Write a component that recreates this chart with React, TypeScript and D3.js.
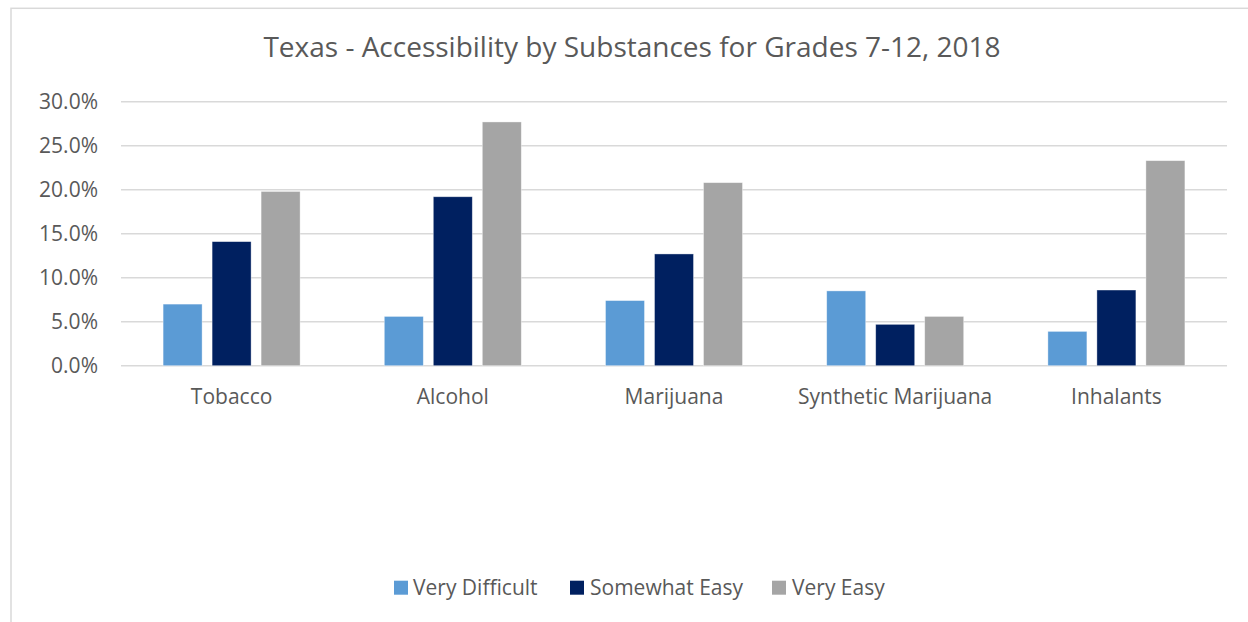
import React from "react";
import * as d3 from "d3";

const categories = ["Tobacco", "Alcohol", "Marijuana", "Synthetic Marijuana", "Inhalants"];
const seriesNames = ["Very Difficult", "Somewhat Easy", "Very Easy"];
const veryDifficult = [7.0, 5.6, 7.4, 8.5, 3.9];
const somewhatEasy = [14.1, 19.2, 12.7, 4.7, 8.6];
const veryEasy = [19.8, 27.7, 20.8, 5.6, 23.3];
const yTicks = [0, 5, 10, 15, 20, 25, 30];
const colors = ["#5B9BD5", "#002060", "#A5A5A5"];

const W = 1248;
const H = 622;
const plot = { left: 121, right: 1227, top: 101.7, bottom: 365.7 };
const FONT = "'Open Sans', 'Noto Sans', sans-serif";
const TEXT = "#595959";

export default function App() {
  const series = [veryDifficult, somewhatEasy, veryEasy];
  const y = d3.scaleLinear().domain([0, 30]).range([plot.bottom, plot.top]);
  const x0 = d3.scaleBand<string>().domain(categories).range([plot.left, plot.right]).padding(0);
  const groupW = 137;
  const x1 = d3.scaleBand<string>().domain(seriesNames).range([0, groupW]).paddingInner(10 / 49).paddingOuter(0);
  const fmt = (v: number) => v.toFixed(1) + "%";

  const legendItems = [
    { name: seriesNames[0], sx: 394, tx: 413 },
    { name: seriesNames[1], sx: 570, tx: 590 },
    { name: seriesNames[2], sx: 772, tx: 792 },
  ];

  return (
    <svg
      width={W}
      height={H}
      style={{ position: "absolute", left: 0, top: 0, background: "#fff" }}
      fontFamily={FONT}
    >
      {/* chart frame */}
      <rect x={11} y={8.3} width={W + 20} height={H + 20} fill="#fff" stroke="#D9D9D9" strokeWidth={1.5} />

      <text x={632} y={57} textAnchor="middle" fontSize={28} fill={TEXT}>
        Texas - Accessibility by Substances for Grades 7-12, 2018
      </text>

      {/* gridlines and y labels */}
      {yTicks.map((t) => (
        <g key={t}>
          <line x1={plot.left} x2={plot.right} y1={y(t)} y2={y(t)} stroke="#D9D9D9" strokeWidth={1.5} />
          <text x={98} y={y(t) + 7.5} textAnchor="end" fontSize={21} fill={TEXT}>
            {fmt(t)}
          </text>
        </g>
      ))}

      {/* bars */}
      {categories.map((c, ci) => {
        const gx = (x0(c) as number) + (x0.bandwidth() - groupW) / 2;
        return (
          <g key={c}>
            {series.map((vals, si) => (
              <rect
                key={si}
                x={gx + (x1(seriesNames[si]) as number)}
                y={y(vals[ci])}
                width={x1.bandwidth()}
                height={y(0) - y(vals[ci])}
                fill={colors[si]}
                stroke="#fff"
                strokeOpacity={0.5}
                strokeWidth={0.75}
              />
            ))}
            <text x={(x0(c) as number) + x0.bandwidth() / 2} y={404} textAnchor="middle" fontSize={21} fill={TEXT}>
              {c}
            </text>
          </g>
        );
      })}

      {/* legend */}
      {legendItems.map((it, i) => (
        <g key={it.name}>
          <rect x={it.sx} y={580.7} width={14} height={14} fill={colors[i]} />
          <text x={it.tx} y={595} fontSize={21} fill={TEXT}>
            {it.name}
          </text>
        </g>
      ))}
    </svg>
  );
}
